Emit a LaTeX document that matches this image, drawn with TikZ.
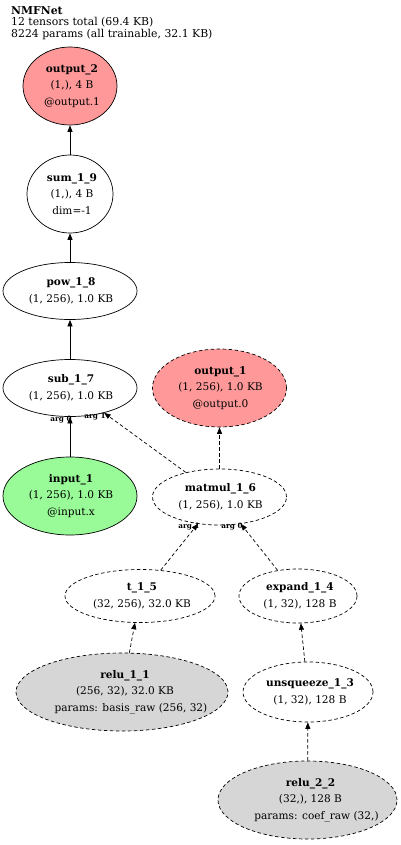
\documentclass[tikz,border=0pt]{standalone}
\usepackage{fontspec}
\setmainfont{DejaVu Serif}
\usetikzlibrary{shapes.geometric,arrows.meta}
\definecolor{outfill}{HTML}{FF9999}
\definecolor{infill}{HTML}{98FB98}
\definecolor{parfill}{HTML}{D6D6D6}
\begin{document}
\begin{tikzpicture}[x=1bp,y=-1bp,
  shapebox/.style={ellipse, draw, line width=0.7bp, inner sep=0pt},
  dshape/.style={shapebox, dash pattern=on 3.5bp off 2.5bp},
  lbl/.style={font=\fontsize{10.6}{16.5}\selectfont, align=center, inner sep=0pt},
  conn/.style={-{Triangle[length=6.5bp,width=5bp]}, line width=0.7bp},
  dconn/.style={conn, dash pattern=on 3.5bp off 2.5bp},
  arglbl/.style={font=\bfseries\fontsize{7.3}{8}\selectfont, inner sep=0pt}]
\useasboundingbox (0,0) rectangle (400,845);
\node[anchor=north west, align=left, font=\fontsize{10.9}{11.7}\selectfont, inner sep=0pt] (title) at (11,6)
  {\textbf{NMFNet}\\12 tensors total (69.4 KB)\\8224 params (all trainable, 32.1 KB)};
% nodes
\node[shapebox, fill=outfill, minimum width=94bp, minimum height=78bp] (out2) at (70,86) {};
\node[lbl] (out2t) at ([xshift=2bp]out2.center) {\textbf{output\_2}\\(1,), 4 B\\@output.1};
\node[shapebox, minimum width=86bp, minimum height=78bp] (sum) at (70,194) {};
\node[lbl] (sumt) at ([xshift=2bp]sum.center) {\textbf{sum\_1\_9}\\(1,), 4 B\\dim=-1};
\node[shapebox, minimum width=134bp, minimum height=57bp] (pow) at (70,291) {};
\node[lbl] (powt) at ([xshift=1bp]pow.center) {\textbf{pow\_1\_8}\\(1, 256), 1.0 KB};
\node[shapebox, minimum width=134bp, minimum height=57bp] (sub) at (70,388) {};
\node[lbl] (subt) at ([xshift=1bp]sub.center) {\textbf{sub\_1\_7}\\(1, 256), 1.0 KB};
\node[dshape, fill=outfill, minimum width=134bp, minimum height=78bp] (out1) at (219.5,388) {};
\node[lbl] (out1t) at ([xshift=1bp]out1.center) {\textbf{output\_1}\\(1, 256), 1.0 KB\\@output.0};
\node[shapebox, fill=infill, minimum width=134bp, minimum height=78bp] (in1) at (70,496) {};
\node[lbl] (in1t) at ([xshift=1bp]in1.center) {\textbf{input\_1}\\(1, 256), 1.0 KB\\@input.x};
\node[dshape, minimum width=134bp, minimum height=56bp] (mm) at (219.5,497) {};
\node[lbl] (mmt) at ([xshift=1bp]mm.center) {\textbf{matmul\_1\_6}\\(1, 256), 1.0 KB};
\node[dshape, minimum width=150bp, minimum height=53bp] (t) at (140,596) {};
\node[lbl] (tt) at ([xshift=2bp]t.center) {\textbf{t\_1\_5}\\(32, 256), 32.0 KB};
\node[dshape, minimum width=118bp, minimum height=54bp] (exp) at (298,596) {};
\node[lbl] (expt) at ([xshift=2bp]exp.center) {\textbf{expand\_1\_4}\\(1, 32), 128 B};
\node[dshape, fill=parfill, minimum width=212bp, minimum height=78bp] (r1) at (122,692) {};
\node[lbl] (r1t) at ([xshift=3bp]r1.center) {\textbf{relu\_1\_1}\\(256, 32), 32.0 KB\\\hspace*{12bp}params: basis\_raw (256, 32)};
\node[dshape, minimum width=130bp, minimum height=60bp] (unsq) at (308,692) {};
\node[lbl] (unsqt) at ([xshift=2bp]unsq.center) {\textbf{unsqueeze\_1\_3}\\(1, 32), 128 B};
\node[dshape, fill=parfill, minimum width=179bp, minimum height=78bp] (r2) at (307.5,800) {};
\node[lbl] (r2t) at ([xshift=3bp]r2.center) {\textbf{relu\_2\_2}\\(32,), 128 B\\\hspace*{12bp}params: coef\_raw (32,)};
% connectors
\draw[conn] (sum) -- (out2);
\draw[conn] (pow) -- (sum);
\draw[conn] (sub) -- (pow);
\draw[conn] (in1) -- (sub);
\draw[dconn] (mm) -- (sub);
\draw[dconn] (mm) -- (out1);
\draw[dconn] (t) -- (mm);
\draw[dconn] (exp) -- (mm);
\draw[dconn] (r1) -- (t);
\draw[dconn] (unsq) -- (exp);
\draw[dconn] (r2) -- (unsq);
% argument labels
\node[arglbl] (a0s) at (61,420) {arg 0};
\node[arglbl] (a1s) at (95,417) {arg 1};
\node[arglbl] (a1m) at (189,527) {arg 1};
\node[arglbl] (a0m) at (232,527) {arg 0};
\end{tikzpicture}
\end{document}
